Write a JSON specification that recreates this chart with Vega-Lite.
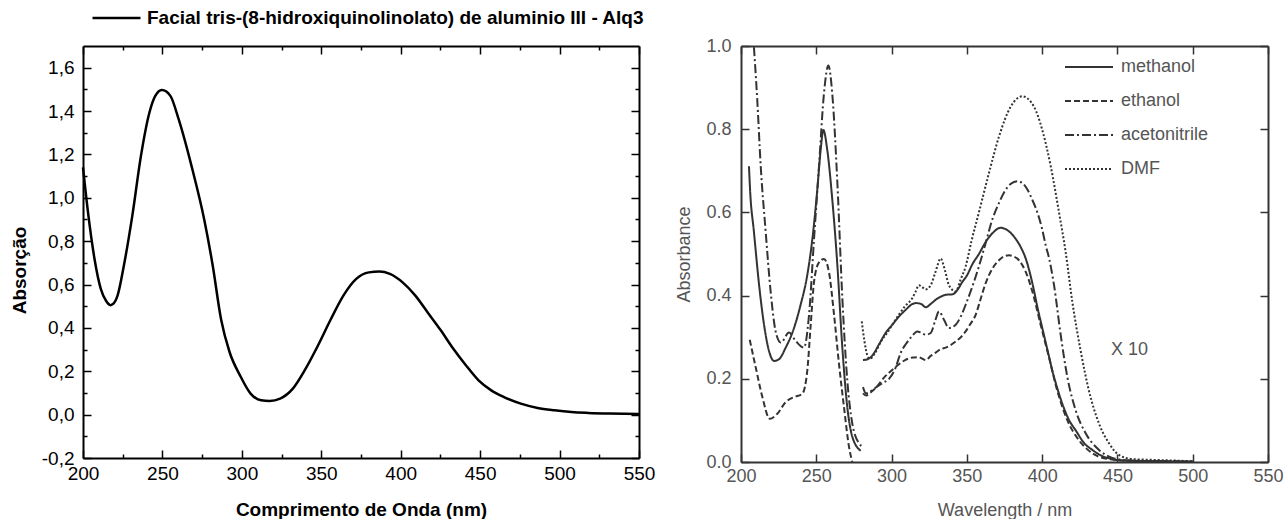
{
  "$schema": "https://vega.github.io/schema/vega-lite/v6.json",
  "background": "white",
  "padding": {"left": 10, "top": 8, "right": 0, "bottom": 0},
  "autosize": {"type": "pad"},
  "config": {"view": {"stroke": null}, "font": "Liberation Sans", "axis": {"grid": false, "labelFlush": false, "labelOverlap": false}},
  "spacing": 102,
  "bounds": "flush",
  "resolve": {"legend": {"color": "independent", "strokeDash": "independent"}},
  "hconcat": [
    {
      "width": 556,
      "height": 412,
      "data": {"values": [
        {"nm": 200, "a": 1.14}, {"nm": 203.2, "a": 0.93}, {"nm": 207.2, "a": 0.72}, {"nm": 211.2, "a": 0.58},
        {"nm": 214.5, "a": 0.525}, {"nm": 217.3, "a": 0.505}, {"nm": 220, "a": 0.52}, {"nm": 221.8, "a": 0.55},
        {"nm": 225.8, "a": 0.69}, {"nm": 231.1, "a": 0.92}, {"nm": 236.4, "a": 1.19}, {"nm": 241.7, "a": 1.39},
        {"nm": 245.5, "a": 1.47}, {"nm": 249.7, "a": 1.497}, {"nm": 255, "a": 1.47}, {"nm": 260.3, "a": 1.36},
        {"nm": 268.3, "a": 1.147}, {"nm": 276.3, "a": 0.9}, {"nm": 281.6, "a": 0.69}, {"nm": 286.9, "a": 0.44},
        {"nm": 292.2, "a": 0.29}, {"nm": 298.9, "a": 0.18}, {"nm": 305.5, "a": 0.097}, {"nm": 312.1, "a": 0.066},
        {"nm": 317.5, "a": 0.063}, {"nm": 324.1, "a": 0.074}, {"nm": 332.1, "a": 0.12}, {"nm": 340, "a": 0.21},
        {"nm": 348, "a": 0.32}, {"nm": 356, "a": 0.44}, {"nm": 364, "a": 0.55}, {"nm": 372, "a": 0.626},
        {"nm": 380, "a": 0.656}, {"nm": 386.6, "a": 0.66}, {"nm": 393.2, "a": 0.649}, {"nm": 401.2, "a": 0.61},
        {"nm": 409.1, "a": 0.55}, {"nm": 417.1, "a": 0.47}, {"nm": 425.1, "a": 0.39}, {"nm": 433, "a": 0.305},
        {"nm": 441, "a": 0.228}, {"nm": 449, "a": 0.158}, {"nm": 457, "a": 0.112}, {"nm": 465, "a": 0.081},
        {"nm": 475.6, "a": 0.051}, {"nm": 486.2, "a": 0.031}, {"nm": 496.8, "a": 0.02}, {"nm": 507.5, "a": 0.012},
        {"nm": 518, "a": 0.008}, {"nm": 531.4, "a": 0.005}, {"nm": 550, "a": 0.003}
      ]},
      "layer": [
        {
          "mark": {"type": "line", "interpolate": "monotone", "strokeWidth": 2.5},
          "encoding": {
            "x": {"field": "nm", "type": "quantitative", "scale": {"domain": [200, 550], "nice": false, "zero": false},
              "axis": {"orient": "bottom", "values": [200,225,250,275,300,325,350,375,400,425,450,475,500,525,550],
                "labelExpr": "datum.value % 50 === 0 ? datum.label : ''",
                "tickSize": {"condition": {"test": "datum.value % 50 === 0", "value": -8}, "value": -4},
                "tickColor": "black", "tickWidth": 1.5, "domainColor": "black", "domainWidth": 2,
                "labelFontSize": 19, "labelColor": "black", "labelPadding": 14,
                "title": "Comprimento de Onda (nm)", "titleFontSize": 19, "titleFontWeight": "bold", "titleColor": "black", "titlePadding": 13}},
            "y": {"field": "a", "type": "quantitative", "scale": {"domain": [-0.2, 1.7], "nice": false, "zero": false},
              "axis": {"orient": "left", "values": [-0.2,-0.1,0,0.1,0.2,0.3,0.4,0.5,0.6,0.7,0.8,0.9,1.0,1.1,1.2,1.3,1.4,1.5,1.6],
                "labelExpr": "round(datum.value*10) % 2 === 0 ? (datum.value < 0 ? '-' : '') + replace(format(abs(datum.value), '.1f'), '.', ',') : ''",
                "tickSize": {"condition": {"test": "round(datum.value*10) % 2 === 0", "value": -8}, "value": -4},
                "tickColor": "black", "tickWidth": 1.5, "domainColor": "black", "domainWidth": 2,
                "labelFontSize": 19, "labelColor": "black", "labelPadding": 17,
                "title": "Absorção", "titleFontSize": 19, "titleFontWeight": "bold", "titleColor": "black",
                "titleX": -64, "titleY": 224, "titleBaseline": "middle", "titleAngle": -90}},
            "color": {"datum": "Facial tris-(8-hidroxiquinolinolato) de aluminio III - Alq3", "type": "nominal",
              "scale": {"range": ["black"]},
              "legend": {"orient": "none", "legendX": 8, "legendY": -38, "title": null, "symbolType": "stroke",
                "symbolSize": 2304, "symbolStrokeWidth": 2.5, "clipHeight": 20, "labelFontSize": 19, "labelFontWeight": "bold",
                "labelColor": "black", "labelOffset": 5, "labelLimit": 700, "padding": 0}}
          }
        },
        {
          "mark": {"type": "line", "strokeOpacity": 0},
          "encoding": {
            "x": {"field": "nm", "type": "quantitative",
              "axis": {"orient": "top", "values": [200,225,250,275,300,325,350,375,400,425,450,475,500,525,550], "labels": false, "title": null,
                "tickSize": {"condition": {"test": "datum.value % 50 === 0", "value": -8}, "value": -4},
                "tickColor": "black", "tickWidth": 1.5, "domainColor": "black", "domainWidth": 2}},
            "y": {"field": "a", "type": "quantitative",
              "axis": {"orient": "right", "values": [-0.2,-0.1,0,0.1,0.2,0.3,0.4,0.5,0.6,0.7,0.8,0.9,1.0,1.1,1.2,1.3,1.4,1.5,1.6], "labels": false, "title": null,
                "tickSize": {"condition": {"test": "round(datum.value*10) % 2 === 0", "value": -8}, "value": -4},
                "tickColor": "black", "tickWidth": 1.5, "domainColor": "black", "domainWidth": 2}}
          }
        }
      ],
      "resolve": {"axis": {"x": "independent", "y": "independent"}}
    },
    {
      "width": 527,
      "height": 416,
      "layer": [
        {
          "data": {"values": [
            {"s": "methanol", "g": 1, "x": 205.3, "y": 0.711}, {"s": "methanol", "g": 1, "x": 206, "y": 0.656}, {"s": "methanol", "g": 1, "x": 208.6, "y": 0.553},
            {"s": "methanol", "g": 1, "x": 212, "y": 0.426}, {"s": "methanol", "g": 1, "x": 215.3, "y": 0.33}, {"s": "methanol", "g": 1, "x": 218.6, "y": 0.267},
            {"s": "methanol", "g": 1, "x": 221.9, "y": 0.243}, {"s": "methanol", "g": 1, "x": 225.2, "y": 0.247}, {"s": "methanol", "g": 1, "x": 229.7, "y": 0.275},
            {"s": "methanol", "g": 1, "x": 235.2, "y": 0.322}, {"s": "methanol", "g": 1, "x": 239.6, "y": 0.378}, {"s": "methanol", "g": 1, "x": 244, "y": 0.449},
            {"s": "methanol", "g": 1, "x": 247.4, "y": 0.536}, {"s": "methanol", "g": 1, "x": 250.7, "y": 0.656}, {"s": "methanol", "g": 1, "x": 252.9, "y": 0.75},
            {"s": "methanol", "g": 1, "x": 254.7, "y": 0.798}, {"s": "methanol", "g": 1, "x": 257.3, "y": 0.75}, {"s": "methanol", "g": 1, "x": 260.6, "y": 0.632},
            {"s": "methanol", "g": 1, "x": 264, "y": 0.473}, {"s": "methanol", "g": 1, "x": 267.3, "y": 0.275}, {"s": "methanol", "g": 1, "x": 270.6, "y": 0.132},
            {"s": "methanol", "g": 1, "x": 273.9, "y": 0.061}, {"s": "methanol", "g": 1, "x": 279.5, "y": 0.027},
            {"s": "methanol", "g": 2, "x": 281, "y": 0.245}, {"s": "methanol", "g": 2, "x": 284, "y": 0.247}, {"s": "methanol", "g": 2, "x": 287, "y": 0.255},
            {"s": "methanol", "g": 2, "x": 291.7, "y": 0.283}, {"s": "methanol", "g": 2, "x": 296, "y": 0.31}, {"s": "methanol", "g": 2, "x": 300.5, "y": 0.33},
            {"s": "methanol", "g": 2, "x": 305, "y": 0.35}, {"s": "methanol", "g": 2, "x": 309.4, "y": 0.366}, {"s": "methanol", "g": 2, "x": 314, "y": 0.38},
            {"s": "methanol", "g": 2, "x": 316, "y": 0.382}, {"s": "methanol", "g": 2, "x": 319.5, "y": 0.38}, {"s": "methanol", "g": 2, "x": 322.7, "y": 0.372},
            {"s": "methanol", "g": 2, "x": 326, "y": 0.38}, {"s": "methanol", "g": 2, "x": 329.3, "y": 0.39}, {"s": "methanol", "g": 2, "x": 333, "y": 0.398},
            {"s": "methanol", "g": 2, "x": 336, "y": 0.402}, {"s": "methanol", "g": 2, "x": 340.4, "y": 0.403}, {"s": "methanol", "g": 2, "x": 344, "y": 0.415},
            {"s": "methanol", "g": 2, "x": 347, "y": 0.433}, {"s": "methanol", "g": 2, "x": 350, "y": 0.448}, {"s": "methanol", "g": 2, "x": 353.6, "y": 0.475},
            {"s": "methanol", "g": 2, "x": 358, "y": 0.5}, {"s": "methanol", "g": 2, "x": 362.5, "y": 0.529}, {"s": "methanol", "g": 2, "x": 367, "y": 0.55},
            {"s": "methanol", "g": 2, "x": 372.4, "y": 0.563}, {"s": "methanol", "g": 2, "x": 377, "y": 0.557}, {"s": "methanol", "g": 2, "x": 382.5, "y": 0.536},
            {"s": "methanol", "g": 2, "x": 386, "y": 0.515}, {"s": "methanol", "g": 2, "x": 389.1, "y": 0.489}, {"s": "methanol", "g": 2, "x": 393.5, "y": 0.43},
            {"s": "methanol", "g": 2, "x": 397, "y": 0.37}, {"s": "methanol", "g": 2, "x": 400.1, "y": 0.322}, {"s": "methanol", "g": 2, "x": 403.5, "y": 0.27},
            {"s": "methanol", "g": 2, "x": 406.8, "y": 0.219}, {"s": "methanol", "g": 2, "x": 410, "y": 0.178}, {"s": "methanol", "g": 2, "x": 413.4, "y": 0.14},
            {"s": "methanol", "g": 2, "x": 418, "y": 0.1}, {"s": "methanol", "g": 2, "x": 422.3, "y": 0.076}, {"s": "methanol", "g": 2, "x": 428, "y": 0.045},
            {"s": "methanol", "g": 2, "x": 433.4, "y": 0.029}, {"s": "methanol", "g": 2, "x": 440, "y": 0.014}, {"s": "methanol", "g": 2, "x": 444.4, "y": 0.009},
            {"s": "methanol", "g": 2, "x": 452, "y": 0.004}, {"s": "methanol", "g": 2, "x": 470, "y": 0.002}, {"s": "methanol", "g": 2, "x": 500, "y": 0.001},

            {"s": "ethanol", "g": 1, "x": 205.8, "y": 0.294}, {"s": "ethanol", "g": 1, "x": 209.8, "y": 0.227}, {"s": "ethanol", "g": 1, "x": 214.2, "y": 0.156},
            {"s": "ethanol", "g": 1, "x": 219.1, "y": 0.104}, {"s": "ethanol", "g": 1, "x": 224.1, "y": 0.116}, {"s": "ethanol", "g": 1, "x": 229.7, "y": 0.144},
            {"s": "ethanol", "g": 1, "x": 235.2, "y": 0.156}, {"s": "ethanol", "g": 1, "x": 240.7, "y": 0.164}, {"s": "ethanol", "g": 1, "x": 244, "y": 0.219},
            {"s": "ethanol", "g": 1, "x": 246.3, "y": 0.33}, {"s": "ethanol", "g": 1, "x": 248.5, "y": 0.433}, {"s": "ethanol", "g": 1, "x": 251.8, "y": 0.48},
            {"s": "ethanol", "g": 1, "x": 255.1, "y": 0.488}, {"s": "ethanol", "g": 1, "x": 258.4, "y": 0.457}, {"s": "ethanol", "g": 1, "x": 261.8, "y": 0.354},
            {"s": "ethanol", "g": 1, "x": 265.1, "y": 0.235}, {"s": "ethanol", "g": 1, "x": 268.4, "y": 0.132}, {"s": "ethanol", "g": 1, "x": 271.7, "y": 0.037},
            {"s": "ethanol", "g": 1, "x": 273.9, "y": 0.0},
            {"s": "ethanol", "g": 2, "x": 281, "y": 0.165}, {"s": "ethanol", "g": 2, "x": 283, "y": 0.16}, {"s": "ethanol", "g": 2, "x": 287, "y": 0.17},
            {"s": "ethanol", "g": 2, "x": 290, "y": 0.18}, {"s": "ethanol", "g": 2, "x": 295, "y": 0.203}, {"s": "ethanol", "g": 2, "x": 300, "y": 0.22},
            {"s": "ethanol", "g": 2, "x": 304.9, "y": 0.235}, {"s": "ethanol", "g": 2, "x": 309, "y": 0.245}, {"s": "ethanol", "g": 2, "x": 313.8, "y": 0.251},
            {"s": "ethanol", "g": 2, "x": 318, "y": 0.252}, {"s": "ethanol", "g": 2, "x": 322.7, "y": 0.245}, {"s": "ethanol", "g": 2, "x": 326, "y": 0.255},
            {"s": "ethanol", "g": 2, "x": 329.3, "y": 0.263}, {"s": "ethanol", "g": 2, "x": 333, "y": 0.272}, {"s": "ethanol", "g": 2, "x": 336, "y": 0.275},
            {"s": "ethanol", "g": 2, "x": 340, "y": 0.283}, {"s": "ethanol", "g": 2, "x": 342.6, "y": 0.29}, {"s": "ethanol", "g": 2, "x": 346, "y": 0.3},
            {"s": "ethanol", "g": 2, "x": 349.2, "y": 0.314}, {"s": "ethanol", "g": 2, "x": 352, "y": 0.33}, {"s": "ethanol", "g": 2, "x": 355.9, "y": 0.354},
            {"s": "ethanol", "g": 2, "x": 359, "y": 0.39}, {"s": "ethanol", "g": 2, "x": 362.5, "y": 0.43}, {"s": "ethanol", "g": 2, "x": 367, "y": 0.465},
            {"s": "ethanol", "g": 2, "x": 371.3, "y": 0.485}, {"s": "ethanol", "g": 2, "x": 375, "y": 0.495}, {"s": "ethanol", "g": 2, "x": 378, "y": 0.497},
            {"s": "ethanol", "g": 2, "x": 381, "y": 0.494}, {"s": "ethanol", "g": 2, "x": 384.6, "y": 0.485}, {"s": "ethanol", "g": 2, "x": 389.1, "y": 0.457},
            {"s": "ethanol", "g": 2, "x": 393.5, "y": 0.41}, {"s": "ethanol", "g": 2, "x": 399, "y": 0.33}, {"s": "ethanol", "g": 2, "x": 404.6, "y": 0.251},
            {"s": "ethanol", "g": 2, "x": 410.1, "y": 0.171}, {"s": "ethanol", "g": 2, "x": 416.8, "y": 0.1}, {"s": "ethanol", "g": 2, "x": 424.5, "y": 0.052},
            {"s": "ethanol", "g": 2, "x": 433.4, "y": 0.021}, {"s": "ethanol", "g": 2, "x": 444.4, "y": 0.007}, {"s": "ethanol", "g": 2, "x": 460, "y": 0.003},
            {"s": "ethanol", "g": 2, "x": 480, "y": 0.002}, {"s": "ethanol", "g": 2, "x": 500, "y": 0.001},

            {"s": "acetonitrile", "g": 1, "x": 208.6, "y": 0.997}, {"s": "acetonitrile", "g": 1, "x": 210.8, "y": 0.87}, {"s": "acetonitrile", "g": 1, "x": 213.1, "y": 0.711},
            {"s": "acetonitrile", "g": 1, "x": 216.4, "y": 0.553}, {"s": "acetonitrile", "g": 1, "x": 219.7, "y": 0.409}, {"s": "acetonitrile", "g": 1, "x": 223, "y": 0.314},
            {"s": "acetonitrile", "g": 1, "x": 226.4, "y": 0.287}, {"s": "acetonitrile", "g": 1, "x": 231.9, "y": 0.311}, {"s": "acetonitrile", "g": 1, "x": 236.3, "y": 0.291},
            {"s": "acetonitrile", "g": 1, "x": 241.8, "y": 0.275}, {"s": "acetonitrile", "g": 1, "x": 245.2, "y": 0.354}, {"s": "acetonitrile", "g": 1, "x": 248.5, "y": 0.536},
            {"s": "acetonitrile", "g": 1, "x": 251.8, "y": 0.711}, {"s": "acetonitrile", "g": 1, "x": 255.1, "y": 0.886}, {"s": "acetonitrile", "g": 1, "x": 258, "y": 0.953},
            {"s": "acetonitrile", "g": 1, "x": 260.6, "y": 0.886}, {"s": "acetonitrile", "g": 1, "x": 264, "y": 0.671}, {"s": "acetonitrile", "g": 1, "x": 267.3, "y": 0.394},
            {"s": "acetonitrile", "g": 1, "x": 270.6, "y": 0.196}, {"s": "acetonitrile", "g": 1, "x": 273.9, "y": 0.093}, {"s": "acetonitrile", "g": 1, "x": 278.4, "y": 0.045},
            {"s": "acetonitrile", "g": 1, "x": 280.2, "y": 0.038},
            {"s": "acetonitrile", "g": 2, "x": 281, "y": 0.18}, {"s": "acetonitrile", "g": 2, "x": 283, "y": 0.165}, {"s": "acetonitrile", "g": 2, "x": 286, "y": 0.17},
            {"s": "acetonitrile", "g": 2, "x": 289.5, "y": 0.179}, {"s": "acetonitrile", "g": 2, "x": 294, "y": 0.19}, {"s": "acetonitrile", "g": 2, "x": 298.3, "y": 0.2},
            {"s": "acetonitrile", "g": 2, "x": 302.7, "y": 0.227}, {"s": "acetonitrile", "g": 2, "x": 306, "y": 0.262}, {"s": "acetonitrile", "g": 2, "x": 309.4, "y": 0.283},
            {"s": "acetonitrile", "g": 2, "x": 313, "y": 0.3}, {"s": "acetonitrile", "g": 2, "x": 317.1, "y": 0.314}, {"s": "acetonitrile", "g": 2, "x": 320, "y": 0.31},
            {"s": "acetonitrile", "g": 2, "x": 322.7, "y": 0.306}, {"s": "acetonitrile", "g": 2, "x": 326, "y": 0.31}, {"s": "acetonitrile", "g": 2, "x": 329, "y": 0.34},
            {"s": "acetonitrile", "g": 2, "x": 331.5, "y": 0.362}, {"s": "acetonitrile", "g": 2, "x": 334.8, "y": 0.342}, {"s": "acetonitrile", "g": 2, "x": 338.1, "y": 0.322},
            {"s": "acetonitrile", "g": 2, "x": 342.6, "y": 0.33}, {"s": "acetonitrile", "g": 2, "x": 346, "y": 0.35}, {"s": "acetonitrile", "g": 2, "x": 349.2, "y": 0.378},
            {"s": "acetonitrile", "g": 2, "x": 352, "y": 0.405}, {"s": "acetonitrile", "g": 2, "x": 354.7, "y": 0.433}, {"s": "acetonitrile", "g": 2, "x": 358, "y": 0.47},
            {"s": "acetonitrile", "g": 2, "x": 362, "y": 0.52}, {"s": "acetonitrile", "g": 2, "x": 367, "y": 0.584}, {"s": "acetonitrile", "g": 2, "x": 371, "y": 0.62},
            {"s": "acetonitrile", "g": 2, "x": 374.7, "y": 0.648}, {"s": "acetonitrile", "g": 2, "x": 379, "y": 0.668}, {"s": "acetonitrile", "g": 2, "x": 383.5, "y": 0.675},
            {"s": "acetonitrile", "g": 2, "x": 387, "y": 0.67}, {"s": "acetonitrile", "g": 2, "x": 390.2, "y": 0.655}, {"s": "acetonitrile", "g": 2, "x": 393.5, "y": 0.63},
            {"s": "acetonitrile", "g": 2, "x": 396.8, "y": 0.6}, {"s": "acetonitrile", "g": 2, "x": 400, "y": 0.56}, {"s": "acetonitrile", "g": 2, "x": 402.4, "y": 0.52},
            {"s": "acetonitrile", "g": 2, "x": 404.6, "y": 0.49}, {"s": "acetonitrile", "g": 2, "x": 407.9, "y": 0.425}, {"s": "acetonitrile", "g": 2, "x": 412.3, "y": 0.306},
            {"s": "acetonitrile", "g": 2, "x": 416.8, "y": 0.203}, {"s": "acetonitrile", "g": 2, "x": 422.3, "y": 0.124}, {"s": "acetonitrile", "g": 2, "x": 428.9, "y": 0.069},
            {"s": "acetonitrile", "g": 2, "x": 437.8, "y": 0.029}, {"s": "acetonitrile", "g": 2, "x": 446.6, "y": 0.01}, {"s": "acetonitrile", "g": 2, "x": 460, "y": 0.003},
            {"s": "acetonitrile", "g": 2, "x": 480, "y": 0.002}, {"s": "acetonitrile", "g": 2, "x": 500, "y": 0.001},

            {"s": "DMF", "g": 2, "x": 280.2, "y": 0.338}, {"s": "DMF", "g": 2, "x": 282, "y": 0.29}, {"s": "DMF", "g": 2, "x": 284, "y": 0.255},
            {"s": "DMF", "g": 2, "x": 285.5, "y": 0.248}, {"s": "DMF", "g": 2, "x": 289, "y": 0.262}, {"s": "DMF", "g": 2, "x": 293, "y": 0.29},
            {"s": "DMF", "g": 2, "x": 297, "y": 0.31}, {"s": "DMF", "g": 2, "x": 300.5, "y": 0.33}, {"s": "DMF", "g": 2, "x": 305, "y": 0.355},
            {"s": "DMF", "g": 2, "x": 309, "y": 0.375}, {"s": "DMF", "g": 2, "x": 313.8, "y": 0.394}, {"s": "DMF", "g": 2, "x": 316, "y": 0.41},
            {"s": "DMF", "g": 2, "x": 318.2, "y": 0.425}, {"s": "DMF", "g": 2, "x": 320.5, "y": 0.42}, {"s": "DMF", "g": 2, "x": 322.7, "y": 0.415},
            {"s": "DMF", "g": 2, "x": 326, "y": 0.425}, {"s": "DMF", "g": 2, "x": 329, "y": 0.455}, {"s": "DMF", "g": 2, "x": 332.6, "y": 0.489},
            {"s": "DMF", "g": 2, "x": 335.5, "y": 0.46}, {"s": "DMF", "g": 2, "x": 338.1, "y": 0.425}, {"s": "DMF", "g": 2, "x": 342.6, "y": 0.41},
            {"s": "DMF", "g": 2, "x": 346, "y": 0.44}, {"s": "DMF", "g": 2, "x": 349.2, "y": 0.47}, {"s": "DMF", "g": 2, "x": 353, "y": 0.53},
            {"s": "DMF", "g": 2, "x": 358, "y": 0.6}, {"s": "DMF", "g": 2, "x": 364.7, "y": 0.695}, {"s": "DMF", "g": 2, "x": 371.3, "y": 0.782},
            {"s": "DMF", "g": 2, "x": 379.1, "y": 0.854}, {"s": "DMF", "g": 2, "x": 386.8, "y": 0.879}, {"s": "DMF", "g": 2, "x": 394.6, "y": 0.854},
            {"s": "DMF", "g": 2, "x": 400.1, "y": 0.798}, {"s": "DMF", "g": 2, "x": 405.7, "y": 0.711}, {"s": "DMF", "g": 2, "x": 411.2, "y": 0.6},
            {"s": "DMF", "g": 2, "x": 415.6, "y": 0.505}, {"s": "DMF", "g": 2, "x": 420, "y": 0.386}, {"s": "DMF", "g": 2, "x": 425.6, "y": 0.267},
            {"s": "DMF", "g": 2, "x": 431.1, "y": 0.171}, {"s": "DMF", "g": 2, "x": 437.8, "y": 0.092}, {"s": "DMF", "g": 2, "x": 444.4, "y": 0.045},
            {"s": "DMF", "g": 2, "x": 451, "y": 0.017}, {"s": "DMF", "g": 2, "x": 460, "y": 0.007}, {"s": "DMF", "g": 2, "x": 475, "y": 0.005},
            {"s": "DMF", "g": 2, "x": 500, "y": 0.002}
          ]},
          "mark": {"type": "line", "interpolate": "monotone", "strokeWidth": 2, "color": "#333"},
          "encoding": {
            "x": {"field": "x", "type": "quantitative", "scale": {"domain": [200, 550], "nice": false, "zero": false},
              "axis": {"orient": "bottom", "values": [200,250,300,350,400,450,500,550], "tickSize": -8,
                "tickColor": "#333", "tickWidth": 1.5, "domainColor": "#333", "domainWidth": 2,
                "labelFontSize": 18, "labelColor": "#555", "labelPadding": 13,
                "title": "Wavelength / nm", "titleFontSize": 18, "titleFontWeight": "normal", "titleColor": "#555", "titlePadding": 16}},
            "y": {"field": "y", "type": "quantitative", "scale": {"domain": [0, 1], "nice": false},
              "axis": {"orient": "left", "values": [0,0.2,0.4,0.6,0.8,1.0], "format": ".1f", "tickSize": -8,
                "tickColor": "#333", "tickWidth": 1.5, "domainColor": "#333", "domainWidth": 2,
                "labelFontSize": 18, "labelColor": "#555", "labelPadding": 18,
                "title": "Absorbance", "titleFontSize": 18, "titleFontWeight": "normal", "titleColor": "#555", "titlePadding": 12}},
            "strokeDash": {"field": "s", "type": "nominal",
              "scale": {"domain": ["methanol", "ethanol", "acetonitrile", "DMF"], "range": [[1, 0], [6, 3], [9, 3, 2, 3], [2, 2]]},
              "legend": {"orient": "none", "legendX": 323, "legendY": 12, "title": null, "symbolType": "stroke",
                "symbolSize": 2304, "symbolStrokeWidth": 2, "symbolStrokeColor": "#333", "clipHeight": 18, "rowPadding": 16,
                "labelFontSize": 18, "labelColor": "#555", "labelOffset": 7, "padding": 0}},
            "detail": {"field": "g", "type": "nominal"}
          }
        },
        {
          "data": {"values": [{"x": 458, "y": 0.27, "t": "X 10"}]},
          "mark": {"type": "text", "fontSize": 18, "color": "#555"},
          "encoding": {
            "x": {"field": "x", "type": "quantitative",
              "axis": {"orient": "top", "values": [200,250,300,350,400,450,500,550], "labels": false, "title": null, "tickSize": -8,
                "tickColor": "#333", "tickWidth": 1.5, "domainColor": "#333", "domainWidth": 2}},
            "y": {"field": "y", "type": "quantitative",
              "axis": {"orient": "right", "values": [0,0.2,0.4,0.6,0.8,1.0], "labels": false, "title": null, "tickSize": -8,
                "tickColor": "#333", "tickWidth": 1.5, "domainColor": "#333", "domainWidth": 2}},
            "text": {"field": "t"}
          }
        }
      ],
      "resolve": {"axis": {"x": "independent", "y": "independent"}}
    }
  ]
}
